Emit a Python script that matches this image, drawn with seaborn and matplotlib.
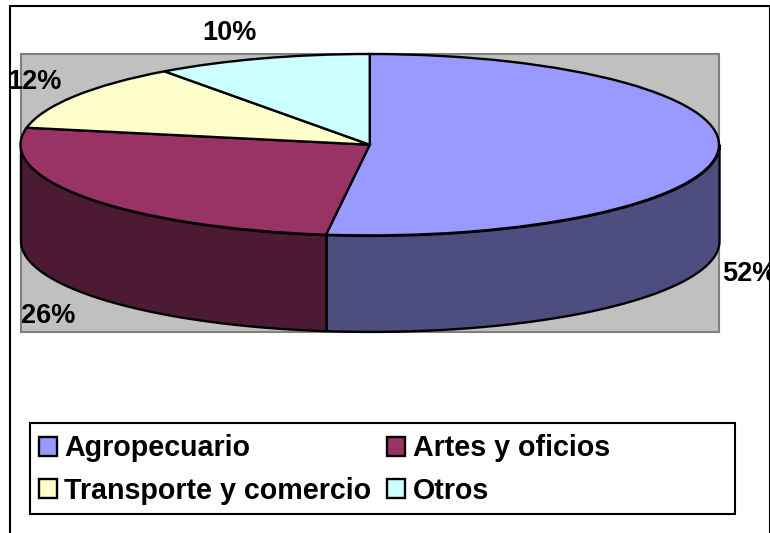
import numpy as np
import seaborn as sns
import matplotlib.pyplot as plt
from matplotlib.patches import Patch, Rectangle

# Data
categories = ['Agropecuario', 'Artes y oficios', 'Transporte y comercio', 'Otros']
values = [52, 26, 12, 10]
top_colors = ['#9999FF', '#993366', '#FFFFCC', '#CCFFFF']
side_colors = ['#4D4D80', '#4D1A33', '#808066', '#668080']

W, H = 770, 533

sns.set_theme(style='white')
plt.rcParams['font.family'] = ['Liberation Sans', 'DejaVu Sans']
plt.rcParams['font.weight'] = 'bold'
palette = sns.color_palette(top_colors)
side_palette = sns.color_palette(side_colors)


def fx(px):
    return px / W


def fy(py):
    return 1 - py / H


fig = plt.figure(figsize=(W / 100, H / 100), dpi=100, facecolor='white')

# plot area is the grey rectangle, the pie top is squashed into an ellipse
left, right, top, bottom = 20.5, 719, 54, 332
ax = fig.add_axes([fx(left), fy(bottom), fx(right - left), (bottom - top) / H])
ry = 90.7
depth = 96 / ry

ax.pie(values, colors=palette, startangle=90, counterclock=False, radius=1,
       wedgeprops={'edgecolor': 'black', 'linewidth': 1.7, 'zorder': 3})
ax.set_aspect('auto')
ax.set_xlim(-1, 1)
ax.set_ylim(1 - (bottom - top) / ry, 1)
ax.set_facecolor('#C0C0C0')
ax.set_frame_on(True)
for s in ax.spines.values():
    s.set_visible(True)
    s.set_color('#808080')
    s.set_linewidth(1.5)
    s.set_zorder(1)

# side walls, only the part that faces the viewer
edges = 90 - 3.6 * np.concatenate([[0], np.cumsum(values)])
for i in range(len(values)):
    a, b = min(edges[i], 0), max(edges[i + 1], -180)
    if a <= b:
        continue
    t = np.radians(np.linspace(a, b, 120))
    ax.fill_between(np.cos(t), np.sin(t), np.sin(t) - depth, color=side_palette[i],
                    edgecolor='black', linewidth=1.7, zorder=2, clip_on=False)

# outer chart frame, open at the bottom of the image
frame = Rectangle((fx(10), fy(540)), fx(759.5), 534 / H, transform=fig.transFigure,
                  fill=False, edgecolor='black', linewidth=1.5, zorder=10)
fig.add_artist(frame)

# percent labels
label_pos = [(722, 274), (21, 316), (7, 82), (202, 33)]
for v, (px, py) in zip(values, label_pos):
    t = fig.text(fx(px), fy(py), f'{v}%', fontsize=19.5, fontweight='bold',
                 color='black', ha='left', va='center', zorder=9)
    t.set_clip_path(frame)

# legend, filled column by column so the rows read like the original
fig.add_artist(Rectangle((fx(29.5), fy(514)), fx(705.5), 91 / H, transform=fig.transFigure,
                         facecolor='white', edgecolor='black', linewidth=1.5, zorder=5))
handles = [Patch(facecolor=c, edgecolor='black', linewidth=1.7) for c in palette]
order = [0, 2, 1, 3]
leg = fig.legend([handles[i] for i in order], [categories[i] for i in order], ncol=2,
                 loc='upper left', bbox_to_anchor=(fx(39), fy(434.5)), frameon=False,
                 fontsize=20.6, handlelength=0.63, handleheight=0.63, handletextpad=0.26,
                 columnspacing=0.55, labelspacing=0.5, borderpad=0, borderaxespad=0)
leg.set_zorder(6)
for txt in leg.get_texts():
    txt.set_color('black')

fig.savefig('out.png', dpi=100)
